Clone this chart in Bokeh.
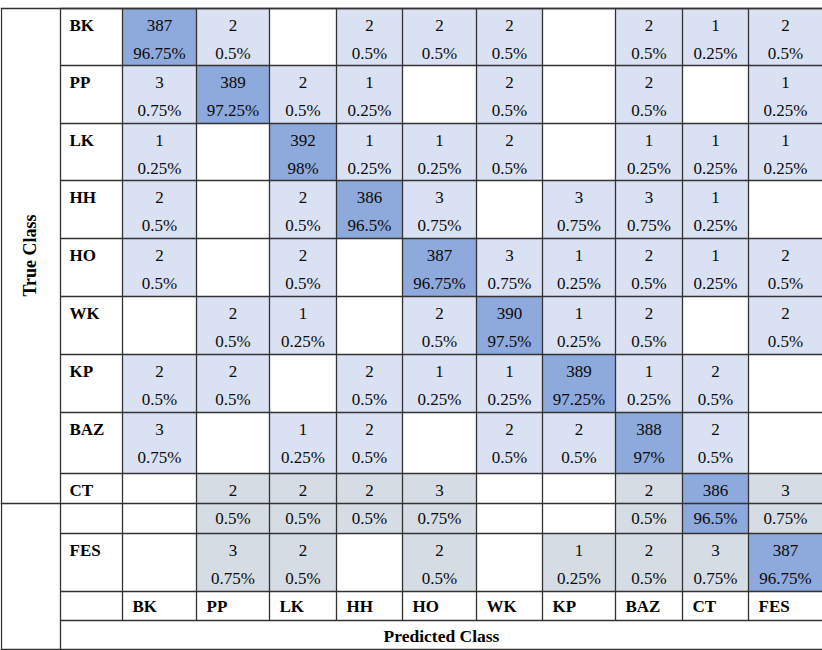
from bokeh.plotting import figure
from bokeh.models import Range1d
from bokeh.core.properties import value
from bokeh.embed import file_html
from bokeh.resources import INLINE
import math

# ---- data ----
classes = ["BK", "PP", "LK", "HH", "HO", "WK", "KP", "BAZ", "CT", "FES"]
# counts per true class (0 = empty cell), columns = predicted class
bk = [387, 2, 0, 2, 2, 2, 0, 2, 1, 2]
pp = [3, 389, 2, 1, 0, 2, 0, 2, 0, 1]
lk = [1, 0, 392, 1, 1, 2, 0, 1, 1, 1]
hh = [2, 0, 2, 386, 3, 0, 3, 3, 1, 0]
ho = [2, 0, 2, 0, 387, 3, 1, 2, 1, 2]
wk = [0, 2, 1, 0, 2, 390, 1, 2, 0, 2]
kp = [2, 2, 0, 2, 1, 1, 389, 1, 2, 0]
baz = [3, 0, 1, 2, 0, 2, 2, 388, 2, 0]
ct = [0, 2, 2, 2, 3, 0, 0, 2, 386, 3]
fes = [0, 3, 2, 0, 2, 0, 1, 2, 3, 387]
rows = [bk, pp, lk, hh, ho, wk, kp, baz, ct, fes]

# ---- layout (reference pixel grid) ----
col_edges = [122, 196, 269, 336, 402, 476, 542, 615, 682, 748, 822]
row_tops = [8, 65, 123, 180, 238, 296, 354, 412, 473, 533]
row_bots = [65, 123, 180, 238, 296, 354, 412, 473, 533, 591]

DIAG = "#8EA9DB"
LIGHT = "#D9E1F2"
GRAY = "#D6DCE4"
LINE = "#333333"
FONT = value("Liberation Serif")

p = figure(width=822, height=650, x_range=Range1d(0, 822), y_range=Range1d(650, 0),
           output_backend="svg", toolbar_location=None, min_border=0)
p.axis.visible = False
p.grid.visible = False
p.outline_line_color = None
p.background_fill_color = "white"

# cells
L, R, T, B, C = [], [], [], [], []
cx, cy, ctext, px, py, ptext = [], [], [], [], [], []
for r, row in enumerate(rows):
    tot = sum(row)
    for c, v in enumerate(row):
        if v == 0:
            continue
        L.append(col_edges[c]); R.append(col_edges[c + 1])
        T.append(row_tops[r]); B.append(row_bots[r])
        C.append(DIAG if r == c else (GRAY if r >= 8 else LIGHT))
        xm = (col_edges[c] + col_edges[c + 1]) / 2
        cx.append(xm); cy.append(row_tops[r] + 17); ctext.append(str(v))
        px.append(xm); py.append(row_tops[r] + 45)
        ptext.append(f"{round(v * 100 / tot, 2):g}%")

p.quad(left=L, right=R, top=T, bottom=B, fill_color=C, line_color=None)

# grid lines
hx0, hx1, hy0, hy1 = [], [], [], []
for y in row_tops + [591, 620]:
    hx0.append(60); hx1.append(822); hy0.append(y); hy1.append(y)
for y in [8, 503, 649]:
    hx0.append(0); hx1.append(822); hy0.append(y); hy1.append(y)
p.segment(x0=hx0, x1=hx1, y0=hy0, y1=hy1, line_color=LINE, line_width=1.3)
vx, vy0, vy1 = [], [], []
for x in col_edges[:-1]:
    vx.append(x); vy0.append(8); vy1.append(620)
for x in [1, 60]:
    vx.append(x); vy0.append(8); vy1.append(649)
p.segment(x0=vx, x1=vx, y0=vy0, y1=vy1, line_color=LINE, line_width=1.3)

# numbers
p.text(x=cx, y=cy, text=ctext, text_font=FONT, text_font_size="17px",
       text_align="center", text_baseline="middle", text_color="#0a0a0a")
p.text(x=px, y=py, text=ptext, text_font=FONT, text_font_size="17px",
       text_align="center", text_baseline="middle", text_color="#0a0a0a")

# row labels
p.text(x=[69] * len(classes), y=[t + 17 for t in row_tops], text=classes,
       text_font=FONT, text_font_size="17px", text_font_style="bold",
       text_align="left", text_baseline="middle", text_color="black")
# column labels
p.text(x=[e + 10 for e in col_edges[:-1]], y=[606] * len(classes), text=classes,
       text_font=FONT, text_font_size="17px", text_font_style="bold",
       text_align="left", text_baseline="middle", text_color="black")

# axis titles
p.text(x=[441], y=[635], text=["Predicted Class"], text_font=FONT, text_font_size="17.5px",
       text_font_style="bold", text_align="center", text_baseline="middle", text_color="black")
p.text(x=[29], y=[255], text=["True Class"], text_font=FONT, text_font_size="18px",
       text_font_style="bold", text_align="center", text_baseline="middle",
       text_color="black", angle=math.pi / 2)

open("out.html", "w").write(file_html(p, INLINE))
